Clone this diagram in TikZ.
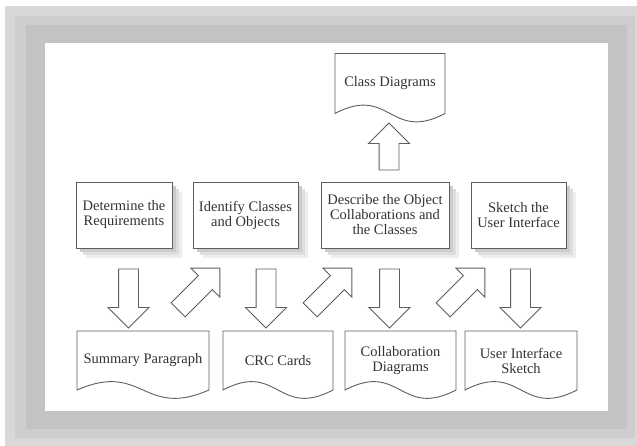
\documentclass[tikz,border=0pt]{standalone}
\usepackage{fontspec}
\setmainfont{Liberation Serif}
\usetikzlibrary{shapes.arrows,shadows,calc}
\definecolor{frameouter}{HTML}{D8D8D8}
\definecolor{framemid}{HTML}{CECECE}
\definecolor{frameinner}{HTML}{C3C3C3}
\definecolor{edgegray}{HTML}{5E5E5E}
\newcommand{\docshape}[1]{%
  \draw[docline] (#1.north west) -- (#1.north east) -- (#1.south east)
    .. controls ($(#1.south)+(0,-29)$) and ($(#1.south)+(0,29)$) .. (#1.south west) -- cycle;}

\begin{document}
\begin{tikzpicture}[x=1pt,y=1pt,font=\fontsize{14.5}{15}\selectfont,
    softshadow/.style={
      drop shadow={shadow xshift=10pt,shadow yshift=-10pt,fill=black!7,opacity=1},
      drop shadow={shadow xshift=7pt,shadow yshift=-7pt,fill=black!13,opacity=1},
      drop shadow={shadow xshift=4pt,shadow yshift=-4pt,fill=black!20,opacity=1}},
    taskbox/.style={draw=edgegray,line width=0.9pt,fill=white,align=center,
      minimum height=66pt,inner sep=2pt,outer sep=0pt,text=black!80,softshadow},
    docbox/.style={align=center,minimum height=59pt,inner sep=2pt,outer sep=0pt,text=black!80},
    docline/.style={draw=edgegray,line width=0.9pt},
    blockarrow/.style={draw=edgegray,line width=0.9pt,single arrow,
      single arrow head extend=10.5pt,minimum width=40pt,minimum height=59pt,
      inner xsep=0pt,inner ysep=9.5pt,outer sep=0pt}]
  \useasboundingbox (0,0) rectangle (637,446);
  % frame
  \fill[frameouter] (5,0) rectangle (637,440);
  \fill[framemid] (15,8) rectangle (635,430);
  \fill[frameinner] (26,17) rectangle (627,421);
  \fill[white] (45,35) rectangle (608,403);

  % tasks
  \node[taskbox,minimum width=96pt] (req) at (124,231) {Determine the\\Requirements};
  \node[taskbox,minimum width=105pt] (ident) at (245.5,231) {Identify Classes\\and Objects};
  \node[taskbox,minimum width=128pt] (descr) at (385,231) {Describe the Object\\Collaborations and\\the Classes};
  \node[taskbox,minimum width=95pt] (sketch) at (518.5,231) {Sketch the\\User Interface};

  % documents
  \node[docbox,minimum width=110pt,minimum height=60pt] (classdia) at (390,362.5) {Class Diagrams};
  \node[docbox,minimum width=132pt] (summary) at (143,85.5) {Summary Paragraph};
  \node[docbox,minimum width=110pt] (crc) at (278,85.5) {CRC Cards};
  \node[docbox,minimum width=111pt] (collab) at (400.5,85.5) {Collaboration\\Diagrams};
  \node[docbox,minimum width=112pt] (uisketch) at (521,85.5) {User Interface\\Sketch};
  \foreach \d in {classdia,summary,crc,collab,uisketch}
    \docshape{\d};

  % block arrows
  \node[blockarrow,rotate=-90] (down1) at (128.5,152.5) {};
  \node[blockarrow,rotate=-90] (down2) at (266,152.5) {};
  \node[blockarrow,rotate=-90] (down3) at (389.5,152.5) {};
  \node[blockarrow,rotate=-90] (down4) at (520.5,152.5) {};
  \node[blockarrow,rotate=45] (next1) at (195.5,153.5) {};
  \node[blockarrow,rotate=45] (next2) at (327.5,153.5) {};
  \node[blockarrow,rotate=45] (next3) at (460.5,153.5) {};
  \node[blockarrow,rotate=90,minimum height=47pt] (up) at (389,294.5) {};
\end{tikzpicture}
\end{document}
